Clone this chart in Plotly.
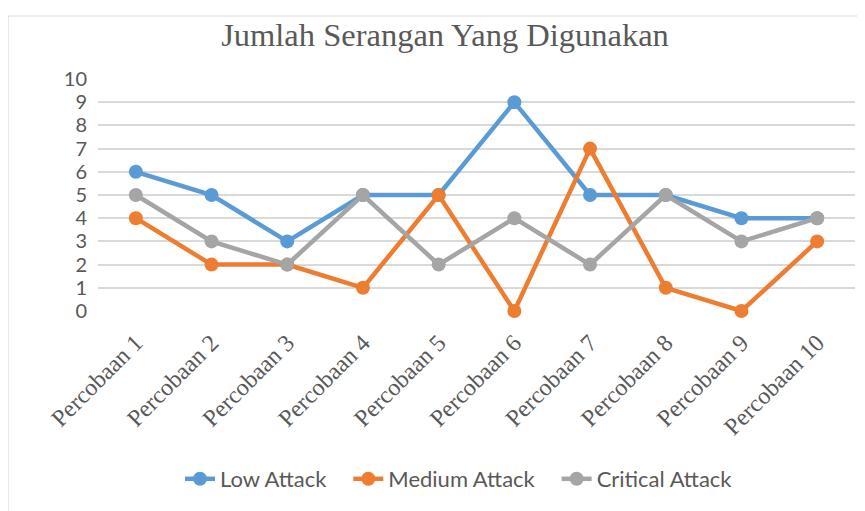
import plotly.graph_objects as go

categories = ["Percobaan 1", "Percobaan 2", "Percobaan 3", "Percobaan 4", "Percobaan 5",
              "Percobaan 6", "Percobaan 7", "Percobaan 8", "Percobaan 9", "Percobaan 10"]
low_attack = [6, 5, 3, 5, 5, 9, 5, 5, 4, 4]
medium_attack = [4, 2, 2, 1, 5, 0, 7, 1, 0, 3]
critical_attack = [5, 3, 2, 5, 2, 4, 2, 5, 3, 4]
y_ticks = list(range(0, 11))

series = [
    ("Low Attack", low_attack, "#5B9BD5"),
    ("Medium Attack", medium_attack, "#ED7D31"),
    ("Critical Attack", critical_attack, "#A5A5A5"),
]

PAD = "\u00a0\u00a0\u00a0"  # spacing after legend text

fig = go.Figure()
for name, vals, color in series:
    fig.add_trace(go.Scatter(
        x=categories, y=vals, name=name + PAD, mode="lines+markers",
        line=dict(color=color, width=4.5),
        marker=dict(color=color, size=14),
        cliponaxis=False,
    ))

OFF = 8  # page body margin
W, H = 865 - OFF, 511 - OFF
ml, mr, mt, mb = 98 - OFF, 10, 79 - OFF, 200
pw, ph = W - ml - mr, H - mt - mb

def px_x(px):
    return (px - OFF - ml) / pw

def px_y(py):
    return (H + OFF - mb - py) / ph

fig.update_layout(
    width=W, height=H,
    margin=dict(l=ml, r=mr, t=mt, b=mb, autoexpand=False),
    paper_bgcolor="white", plot_bgcolor="white",
    title=dict(text="Jumlah Serangan Yang Digunakan",
               font=dict(family="Liberation Serif", size=32.5, color="#595959"),
               x=px_x(445), xref="paper", xanchor="center",
               y=1 - (35 - OFF) / H, yanchor="middle"),
    xaxis=dict(type="category", range=[-0.5, 9.5], showgrid=False, zeroline=False,
               showline=False, ticks="", tickangle=-45, ticklabelstandoff=12,
               tickfont=dict(family="Liberation Serif", size=24, color="#595959")),
    yaxis=dict(range=[0, 10], tickvals=y_ticks, showgrid=True, gridcolor="#D9D9D9",
               gridwidth=1.5, zeroline=False, showline=False, ticks="",
               ticklabelstandoff=10,
               tickfont=dict(family="Lato", size=20, color="#595959")),
    legend=dict(orientation="h", x=px_x(467), xanchor="center", y=px_y(479),
                yanchor="middle", font=dict(family="Lato", size=22, color="#595959"),
                bgcolor="rgba(0,0,0,0)"),
    showlegend=True,
    shapes=[dict(type="rect", xref="paper", yref="paper",
                 x0=px_x(8), x1=px_x(880), y0=px_y(530), y1=px_y(16),
                 line=dict(color="#D9D9D9", width=1.2), fillcolor="rgba(0,0,0,0)",
                 layer="below")],
)

fig.write_html("out.html")
